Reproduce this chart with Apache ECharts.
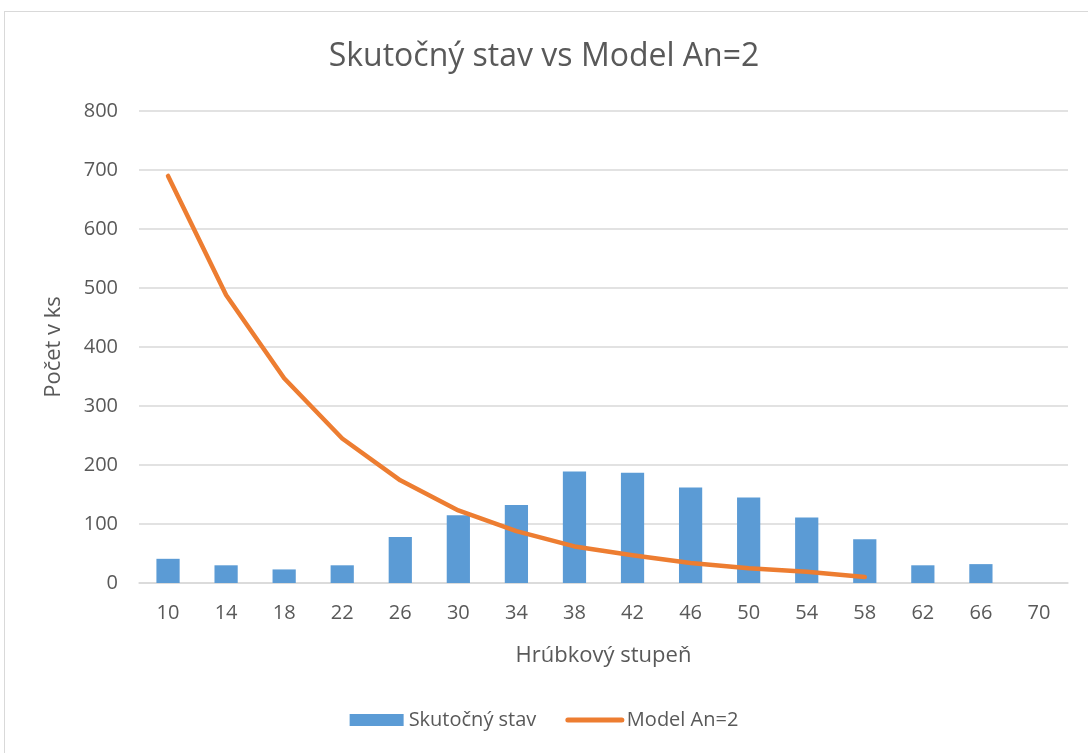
<!DOCTYPE html>
<html>
<head>
    <meta charset="utf-8">
    <script src="https://cdn.jsdelivr.net/npm/echarts@6/dist/echarts.min.js"></script>
    <style>
        body { margin: 0; background: #fff; }
        #frame { position: absolute; left: 4px; top: 11px; width: 1200px; height: 800px; border: 1px solid #d9d9d9; }
        #main { position: absolute; left: 0; top: 0; width: 1088px; height: 753px; }
    </style>
</head>
<body>
<div id="frame"></div>
<div id="main"></div>
<script>
    // hrúbkové stupne
    var stupne = ['10', '14', '18', '22', '26', '30', '34', '38', '42', '46', '50', '54', '58', '62', '66', '70'];
    // skutočný stav (stĺpce)
    var skutocny = [41, 30, 23, 30, 78, 115, 132, 189, 187, 162, 145, 111, 74, 30, 32, 0];
    // model An=2 (čiara), končí pri 58
    var model = [690, 488, 347, 245, 174, 123, 88, 62, 47, 34, 25, 19, 10, null, null, null];

    var txt = '#595959';
    var font = 'Open Sans';

    var myChart = echarts.init(document.getElementById('main'));

    var option = {
        animation: false,
        title: {
            text: 'Skutočný stav vs Model An=2',
            left: 'center',
            top: 36,
            textStyle: { color: txt, fontSize: 32, fontWeight: 'normal', fontFamily: font }
        },
        legend: {
            bottom: 18,
            left: 'center',
            itemWidth: 54,
            itemHeight: 12,
            itemGap: 29,
            textStyle: { color: txt, fontSize: 20, fontFamily: font },
            data: [
                { name: 'Skutočný stav', icon: 'rect' },
                { name: 'Model An=2', itemStyle: { opacity: 0 }, lineStyle: { width: 5, cap: 'round' } }
            ]
        },
        grid: { left: 139, right: 20, top: 111, bottom: 170 },
        xAxis: {
            type: 'category',
            data: stupne,
            name: 'Hrúbkový stupeň',
            nameLocation: 'middle',
            nameGap: 62,
            nameTextStyle: { color: txt, fontSize: 22, fontFamily: font },
            axisLine: { lineStyle: { color: '#d9d9d9', width: 1.5 } },
            axisTick: { show: false },
            axisLabel: { color: txt, fontSize: 20, fontFamily: font, margin: 20 }
        },
        yAxis: {
            type: 'value',
            min: 0,
            max: 800,
            interval: 100,
            name: 'Počet v ks',
            nameLocation: 'middle',
            nameGap: 74,
            nameTextStyle: { color: txt, fontSize: 22, fontFamily: font },
            axisLine: { show: false },
            axisTick: { show: false },
            axisLabel: { color: txt, fontSize: 20, fontFamily: font, margin: 21 },
            splitLine: { lineStyle: { color: '#d9d9d9', width: 1.5 } }
        },
        series: [
            {
                name: 'Skutočný stav',
                type: 'bar',
                data: skutocny,
                barWidth: '40%',
                itemStyle: { color: '#5b9bd5' }
            },
            {
                name: 'Model An=2',
                type: 'line',
                data: model,
                symbol: 'none',
                lineStyle: { color: '#ed7d31', width: 4.5, cap: 'round', join: 'round' },
                itemStyle: { color: '#ed7d31' }
            }
        ]
    };

    myChart.setOption(option);
</script>
</body>
</html>
